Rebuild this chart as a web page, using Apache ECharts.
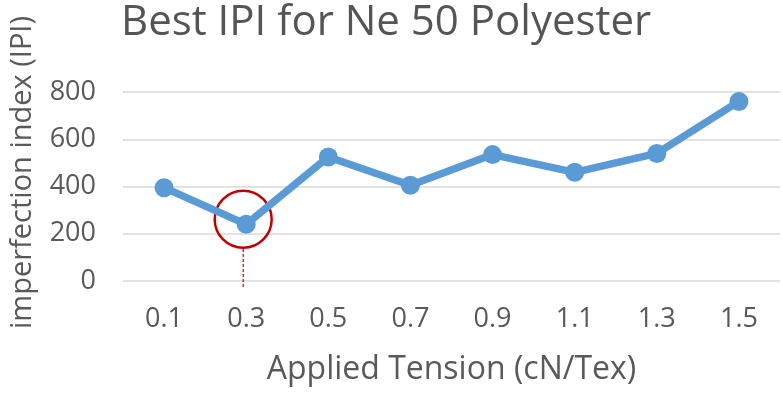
<!DOCTYPE html>
<html>
<head>
<meta charset="utf-8">
<script src="https://cdn.jsdelivr.net/npm/echarts@6/dist/echarts.min.js"></script>
<style>
  html, body { margin: 0; padding: 0; background: #fff; }
  #chart { width: 783px; height: 394px; }
</style>
</head>
<body>
<div id="chart"></div>
<script>
const tensions = ['0.1', '0.3', '0.5', '0.7', '0.9', '1.1', '1.3', '1.5']
const ipiValues = [395, 240, 525, 405, 535, 460, 540, 760]
// the highlighted point and how far the dotted marker runs
const markedTension = '0.3'
const markedValue = 240
const markerLineTop = 135
const markerLineBottom = -25

const font = 'Open Sans'
const grey = '#595959'
const red = '#c00000'

const chart = echarts.init(document.getElementById('chart'))

const option = {
  animation: false,
  title: {
    text: 'Best IPI for Ne 50 Polyester',
    left: 121,
    top: 2,
    padding: 0,
    textStyle: { fontFamily: font, fontSize: 42, fontWeight: 'normal', color: '#555' }
  },
  grid: { left: 123, right: 3, top: 92, bottom: 113 },
  xAxis: {
    type: 'category',
    data: tensions,
    boundaryGap: true,
    name: 'Applied Tension (cN/Tex)',
    nameLocation: 'middle',
    nameGap: 73,
    nameTextStyle: { fontFamily: font, fontSize: 32, color: grey },
    axisLine: { show: false },
    axisTick: { show: false },
    axisLabel: { fontFamily: font, fontSize: 27, color: grey, margin: 25 }
  },
  yAxis: {
    type: 'value',
    min: 0,
    max: 800,
    interval: 200,
    name: 'imperfection index (IPI)',
    nameLocation: 'middle',
    nameGap: 86,
    nameTextStyle: { fontFamily: font, fontSize: 29, color: grey, padding: [0, 0, 0, 28] },
    axisLine: { show: false },
    axisTick: { show: false },
    axisLabel: { fontFamily: font, fontSize: 27, color: grey, margin: 27 },
    splitLine: { lineStyle: { color: '#d9d9d9', width: 1.5 } }
  },
  series: [
    {
      type: 'line',
      data: ipiValues,
      symbol: 'circle',
      symbolSize: 19,
      lineStyle: { width: 7.5, color: '#5b9bd5' },
      itemStyle: { color: '#5b9bd5' }
    }
  ]
}

chart.setOption(option)

// red ring and dotted drop line, placed through the chart's own scales
const ringCentre = chart.convertToPixel({ gridIndex: 0 }, [markedTension, markedValue])
const lineStart = chart.convertToPixel({ gridIndex: 0 }, [markedTension, markerLineTop])
const lineEnd = chart.convertToPixel({ gridIndex: 0 }, [markedTension, markerLineBottom])
chart.setOption({
  graphic: [
    {
      type: 'circle',
      shape: { cx: ringCentre[0] - 3, cy: ringCentre[1] - 5, r: 28.5 },
      style: { fill: 'none', stroke: red, lineWidth: 2.5 }
    },
    {
      type: 'line',
      shape: { x1: lineStart[0] - 3, y1: lineStart[1], x2: lineEnd[0] - 3, y2: lineEnd[1] },
      style: { stroke: red, lineWidth: 1.2, lineDash: [3, 2] }
    }
  ]
})
window.onresize = chart.resize
</script>
</body>
</html>
